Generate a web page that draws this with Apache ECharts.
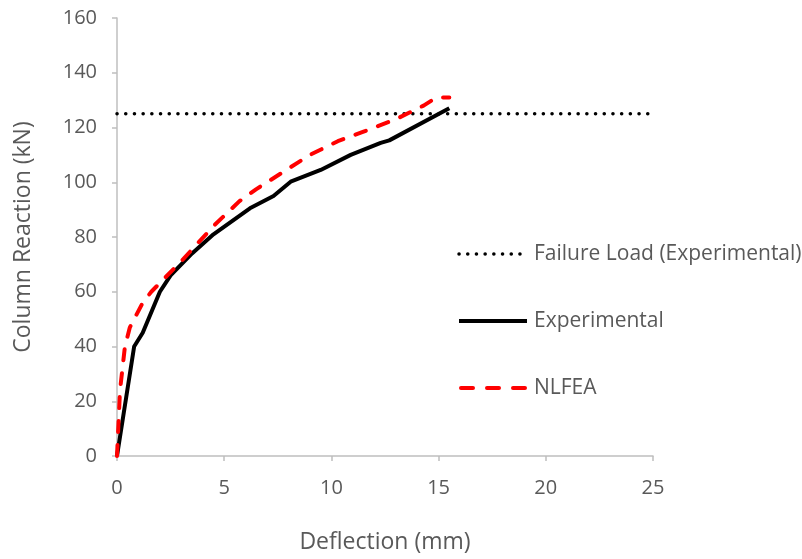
<!DOCTYPE html>
<html>
<head>
<meta charset="utf-8">
<script src="https://cdn.jsdelivr.net/npm/echarts@6/dist/echarts.min.js"></script>
<style>html,body{margin:0;padding:0;background:#fff}#c{width:802px;height:559px}</style>
</head>
<body>
<div id="c"></div>
<script>
const xTicks = [0, 5, 10, 15, 20, 25];
const yTicks = [0, 20, 40, 60, 80, 100, 120, 140, 160];
const seriesNames = ['Failure Load (Experimental)', 'Experimental', 'NLFEA'];
const failureLoad = [[0, 125], [25, 125]];
const experimental = [[0,0],[0.8,40],[1.2,45],[2.0,60],[2.5,66],[3.5,74],[4.5,81],[6.2,90.5],[7.3,95],[8.1,100.2],[9.5,104.5],[10.9,110],[12.3,114.4],[12.7,115.3],[15.5,127]];
const nlfea = [[0,0],[0.14,24],[0.37,40],[0.6,47],[1.2,56],[1.6,60],[2.1,64],[3.1,72],[4.5,84],[5.7,93],[6.5,97.5],[7.8,104],[9,110],[10.3,115],[11.5,118.5],[13,123],[14.3,128],[14.9,131],[15.5,131]];

const font = 'Open Sans';
const txt = '#595959';
const axisCol = '#BFBFBF';
const styles = [
  {color: '#000', width: 3.5, type: [0.1, 8.6], cap: 'round'},
  {color: '#000', width: 4, type: 'solid', join: 'round'},
  {color: '#FF0000', width: 4, type: [11, 13], cap: 'round', join: 'round'}
];
const legendStyles = [
  {color: '#000', width: 3.5, type: [0.1, 8.6], cap: 'round'},
  {color: '#000', width: 4, type: 'solid'},
  {color: '#FF0000', width: 4, type: [12, 14], cap: 'round', dashOffset: -2}
];
const chart = echarts.init(document.getElementById('c'), null, {renderer: 'canvas'});
chart.setOption({
  animation: false,
  grid: {left: 117, right: 149, top: 18, bottom: 103},
  xAxis: {
    type: 'value', min: xTicks[0], max: xTicks[xTicks.length-1], interval: 5,
    name: 'Deflection (mm)', nameLocation: 'middle', nameGap: 75,
    nameTextStyle: {fontFamily: font, fontSize: 23, color: txt},
    axisLine: {show: true, lineStyle: {color: axisCol, width: 1.5}},
    axisTick: {show: true, inside: false, length: 5, lineStyle: {color: axisCol, width: 1.5}},
    axisLabel: {fontFamily: font, fontSize: 20, color: txt, margin: 22},
    splitLine: {show: false}
  },
  yAxis: {
    type: 'value', min: yTicks[0], max: yTicks[yTicks.length-1], interval: 20,
    name: 'Column Reaction (kN)', nameLocation: 'middle', nameGap: 82,
    nameTextStyle: {fontFamily: font, fontSize: 23, color: txt},
    axisLine: {show: true, lineStyle: {color: axisCol, width: 1.5}},
    axisTick: {show: true, inside: false, length: 5, lineStyle: {color: axisCol, width: 1.5}},
    axisLabel: {fontFamily: font, fontSize: 20, color: txt, margin: 20},
    splitLine: {show: false}
  },
  legend: {
    orient: 'vertical', left: 457, top: 241, padding: 0,
    itemWidth: 68, itemHeight: 14, itemGap: 41,
    itemStyle: {opacity: 0},
    textStyle: {fontFamily: font, fontSize: 21, color: txt, lineHeight: 26, padding: [0,0,0,2]},
    data: seriesNames.map((n, i) => ({name: n, lineStyle: legendStyles[i]}))
  },
  series: seriesNames.map((n, i) => ({
    name: n, type: 'line', data: [failureLoad, experimental, nlfea][i],
    symbol: 'none', showSymbol: false,
    lineStyle: styles[i], itemStyle: {color: styles[i].color}
  }))
});
</script>
</body>
</html>
